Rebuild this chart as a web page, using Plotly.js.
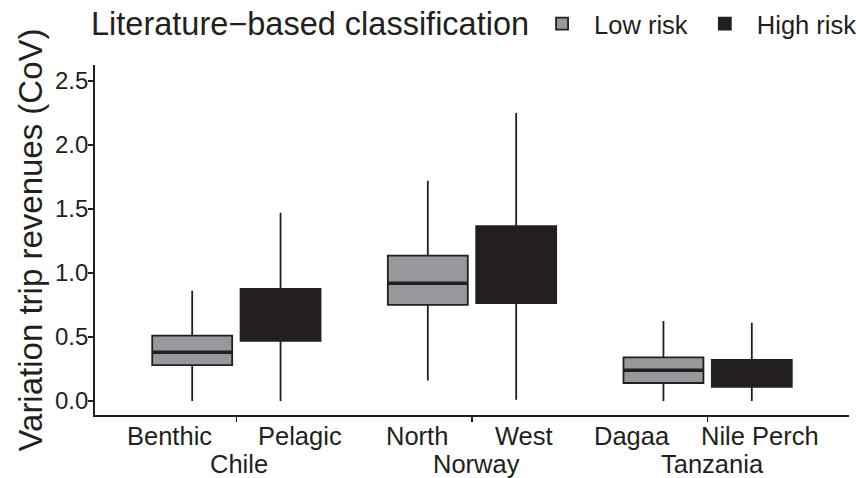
<!DOCTYPE html>
<html>
<head>
<meta charset="utf-8">
<script src="https://cdn.plot.ly/plotly-3.0.1.min.js"></script>
<style>html,body{margin:0;padding:0;background:#fff;}#chart{width:856px;height:478px;}</style>
</head>
<body>
<div id="chart"></div>
<script>
// Data
const countries = ['Chile', 'Norway', 'Tanzania'];
const lowFishery = ['Benthic', 'North', 'Dagaa'];
const highFishery = ['Pelagic', 'West', 'Nile Perch'];

const lowMin = [0.00, 0.16, 0.00];
const lowQ1 = [0.28, 0.75, 0.14];
const lowMed = [0.38, 0.92, 0.24];
const lowQ3 = [0.51, 1.135, 0.34];
const lowMax = [0.86, 1.72, 0.625];

const highMin = [0.00, 0.01, 0.00];
const highQ1 = [0.47, 0.765, 0.11];
const highMed = [0.64, 1.00, 0.20];
const highQ3 = [0.875, 1.365, 0.32];
const highMax = [1.47, 2.25, 0.61];

const yTicks = [0, 0.5, 1, 1.5, 2, 2.5];
const yTickText = ['0.0', '0.5', '1.0', '1.5', '2.0', '2.5'];

// Styling / label layout (pixels)
const ink = '#231f20';
const font = 'Liberation Sans, Arial, sans-serif';
const boxgap = 0.25, boxgroupgap = 0.095;
const offset = 0.25 * (1 - boxgap);
const halfW = 0.5 * (1 - boxgap) * (1 - boxgroupgap) / 2;
const lowLabelShift = [-67, -55, -76];
const highLabelShift = [64, 52, 52];
const countryShift = [3, 4, 5];

const low = {
  type: 'box', name: 'Low risk', x: countries,
  q1: lowQ1, median: lowMed, q3: lowQ3, lowerfence: lowMin, upperfence: lowMax,
  fillcolor: '#97989c', line: {color: ink, width: 1.8}, whiskerwidth: 0,
  boxpoints: false, hoverinfo: 'skip'
};
const high = {
  type: 'box', name: 'High risk', x: countries,
  q1: highQ1, median: highMed, q3: highQ3, lowerfence: highMin, upperfence: highMax,
  fillcolor: ink, line: {color: ink, width: 1.8}, whiskerwidth: 0,
  boxpoints: false, hoverinfo: 'skip'
};

const shapes = [];
countries.forEach((c, i) => {
  shapes.push({type: 'line', xref: 'x', yref: 'y', x0: i - offset - halfW, x1: i - offset + halfW,
    y0: lowMed[i], y1: lowMed[i], line: {color: ink, width: 3.5}});
  shapes.push({type: 'line', xref: 'x', yref: 'y', x0: i + offset - halfW, x1: i + offset + halfW,
    y0: highMed[i], y1: highMed[i], line: {color: ink, width: 3.5}});
});

const lblFont = {family: font, size: 25.5, color: ink};
const annotations = [];
countries.forEach((c, i) => {
  annotations.push({xref: 'x', yref: 'paper', x: i, xshift: lowLabelShift[i], y: -0.06, text: lowFishery[i],
    showarrow: false, xanchor: 'center', yanchor: 'middle', font: lblFont});
  annotations.push({xref: 'x', yref: 'paper', x: i, xshift: highLabelShift[i], y: -0.06, text: highFishery[i],
    showarrow: false, xanchor: 'center', yanchor: 'middle', font: lblFont});
  annotations.push({xref: 'x', yref: 'paper', x: i, xshift: countryShift[i], y: -0.14, text: c,
    showarrow: false, xanchor: 'center', yanchor: 'middle', font: lblFont});
});
annotations.push({xref: 'paper', yref: 'paper', x: -0.008, y: 1.117, xanchor: 'left', yanchor: 'middle',
  text: 'Literature\u2212based classification', showarrow: false,
  font: {family: font, size: 32.5, color: ink}});

const layout = {
  width: 856, height: 478,
  margin: {l: 95, r: 7, t: 65, b: 63, autoexpand: false},
  paper_bgcolor: '#fff', plot_bgcolor: '#fff',
  font: {family: font, color: ink},
  boxmode: 'group', boxgap: boxgap, boxgroupgap: boxgroupgap,
  showlegend: true,
  legend: {
    orientation: 'h', x: 0.577, xanchor: 'left', y: 1.117, yanchor: 'middle',
    itemwidth: 54,
    font: {family: font, size: 25.5, color: ink}, bgcolor: 'rgba(0,0,0,0)'
  },
  xaxis: {
    type: 'category', range: [-0.6, 2.6], showgrid: false, zeroline: false,
    showline: true, linecolor: ink, linewidth: 1.8,
    ticks: 'outside', ticklen: 5, tickwidth: 1.5, tickcolor: ink,
    showticklabels: false, automargin: false
  },
  yaxis: {
    range: [-0.11, 2.625], showgrid: false, zeroline: false,
    showline: true, linecolor: ink, linewidth: 1.8,
    ticks: 'outside', ticklen: 5, tickwidth: 1.5, tickcolor: ink,
    tickvals: yTicks, ticktext: yTickText, ticklabelstandoff: -5,
    tickfont: {family: font, size: 24, color: ink},
    title: {text: 'Variation trip revenues (CoV)', font: {family: font, size: 33, color: ink}, standoff: 2},
    automargin: false
  },
  shapes: shapes,
  annotations: annotations
};

Plotly.newPlot('chart', [low, high], layout, {displayModeBar: false, staticPlot: true});
</script>
</body>
</html>
